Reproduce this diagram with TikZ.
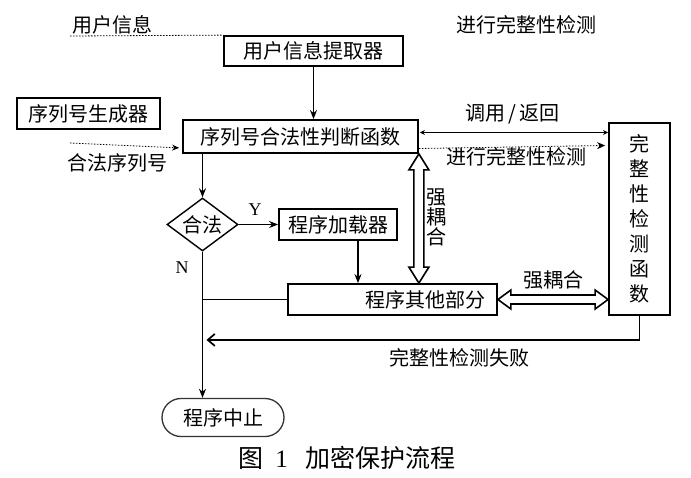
\documentclass[tikz,border=0pt]{standalone}
\usepackage{fontspec}
\setmainfont{Liberation Serif}
\newfontfamily\cjk{Noto Sans CJK SC}
\usetikzlibrary{shapes.geometric, arrows.meta, positioning, calc}

\tikzset{
  procbox/.style={draw, line width=1.8pt, inner sep=0pt, font=\cjk\fontsize{20}{24}\selectfont},
  decision/.style={draw, diamond, aspect=1.35, line width=1.4pt, inner sep=0pt, font=\cjk\fontsize{20}{24}\selectfont},
  terminal/.style={draw=black!80, line width=1.3pt, rounded corners=19pt, inner sep=0pt, font=\cjk\fontsize{20}{24}\selectfont},
  lbl/.style={inner sep=0pt, font=\cjk\fontsize{20}{24}\selectfont},
  vlbl/.style={inner sep=0pt, align=center, font=\cjk\fontsize{20}{20}\selectfont},
  yn/.style={inner sep=0pt, font=\fontsize{18}{20}\selectfont},
  flow/.style={line width=1.6pt, -{Stealth[length=9pt, width=7pt]}},
  plain/.style={line width=1.7pt},
  dotline/.style={line width=0.8pt, dash pattern=on 1.5pt off 1.5pt},
  coupling/.style={line width=1.6pt, fill=white},
}

\begin{document}
\begin{tikzpicture}[x=1pt, y=-1pt]
  \useasboundingbox (0,0) rectangle (691,477);

  % boxes
  \node[procbox, minimum width=179pt, minimum height=30pt] (ext) at (313.5,51) {用户信息提取器};
  \node[procbox, minimum width=143pt, minimum height=31pt] (gen) at (88.5,113.5) {序列号生成器};
  \node[procbox, minimum width=235pt, minimum height=33pt] (judge) at (300.5,136.5) {序列号合法性判断函数};
  \node[decision, minimum width=71pt, minimum height=53pt] (dec) at (202.5,224.5) {合法};
  \node[procbox, minimum width=118pt, minimum height=31pt] (loader) at (338,224.5) {程序加载器};
  \node[procbox, minimum width=209pt, minimum height=31pt, text width=185pt, align=right, inner xsep=12pt] (other) at (392.5,299.5) {程序其他部分};
  \node[procbox, minimum width=61pt, minimum height=192pt, align=center, font=\cjk\fontsize{20}{25}\selectfont] (check) at (639.5,219) {完\\整\\性\\检\\测\\函\\数};
  \node[terminal, minimum width=122pt, minimum height=38pt] (stop) at (223,417.5) {程序中止};

  % labels
  \node[lbl] (uinfo) at (112,25) {用户信息};
  \node[lbl] (toplbl) at (526,25) {进行完整性检测};
  \node[lbl] (snlbl) at (117,163) {合法序列号};
  \node[lbl] (crlbl) at (512.5,114) {调用\,/\,返回};
  \node[lbl] (chklbl) at (516,157) {进行完整性检测};
  \node[vlbl] (vcoup) at (436,217) {强\\耦\\合};
  \node[lbl] (hcoup) at (553,280) {强耦合};
  \node[lbl] (faillbl) at (459,358) {完整性检测失败};
  \node[yn] (ylbl) at (255,210) {Y};
  \node[yn] (nlbl) at (182,268) {N};
  \node[inner sep=0pt, font=\fontsize{25}{28}\selectfont] (caption) at (347,458)
    {{\cjk 图}\hspace{12pt}1\hspace{18pt}{\cjk 加密保护流程}};

  % inputs
  \coordinate (uistart) at (70,36);
  \coordinate (snstart) at (70,143);
  \draw[dotline] (uistart) -- (ext.north west);
  \draw[dotline, -{Stealth[length=7pt, width=6pt]}] (snstart) -- ($(judge.south west)+(-3,-6)$);

  % main flow
  \draw[flow] (ext.south) -- (ext.south |- judge.north);
  \draw[flow] (judge.south -| dec.north) -- (dec.north);
  \draw[flow] (dec.east) -- (loader.west |- dec.east);
  \draw[flow] ([xshift=20pt]loader.south) -- ([xshift=20pt]loader.south |- other.north);
  \draw[flow] (dec.south) -- (dec.south |- stop.north);
  \draw[plain] (other.west) -- (other.west -| dec.south);

  % integrity check
  \draw[plain, {Stealth[length=5pt, width=5pt]}-{Stealth[length=5pt, width=5pt]}]
    ($(judge.east)+(1,-4)$) coordinate (cr) -- (cr -| check.west);
  \draw[dotline, -{Stealth[length=8pt, width=7pt]}]
    ($(judge.east)+(0,12)$) coordinate (ck) -- ($(ck -| check.west)+(-3,-3)$);
  \draw[plain, -{Straight Barb[length=7pt, width=12pt]}]
    (check.south) -- ++(0,24) coordinate (turn) -- ($(turn -| dec.south)+(4,0)$);

  % strong coupling
  \coordinate (va) at (judge.south east);
  \coordinate (vb) at (judge.south east |- other.north);
  \draw[coupling] (va) -- ($(va)+(10,16)$) -- ($(va)+(5,16)$) -- ($(vb)+(5,-16)$)
    -- ($(vb)+(10,-16)$) -- (vb) -- ($(vb)+(-10,-16)$) -- ($(vb)+(-5,-16)$)
    -- ($(va)+(-5,16)$) -- ($(va)+(-10,16)$) -- cycle;
  \coordinate (ha) at (other.east);
  \coordinate (hb) at (other.east -| check.west);
  \draw[coupling] (ha) -- ($(ha)+(13,-9.5)$) -- ($(ha)+(13,-4.5)$) -- ($(hb)+(-13,-4.5)$)
    -- ($(hb)+(-13,-9.5)$) -- (hb) -- ($(hb)+(-13,9.5)$) -- ($(hb)+(-13,4.5)$)
    -- ($(ha)+(13,4.5)$) -- ($(ha)+(13,9.5)$) -- cycle;
\end{tikzpicture}
\end{document}
